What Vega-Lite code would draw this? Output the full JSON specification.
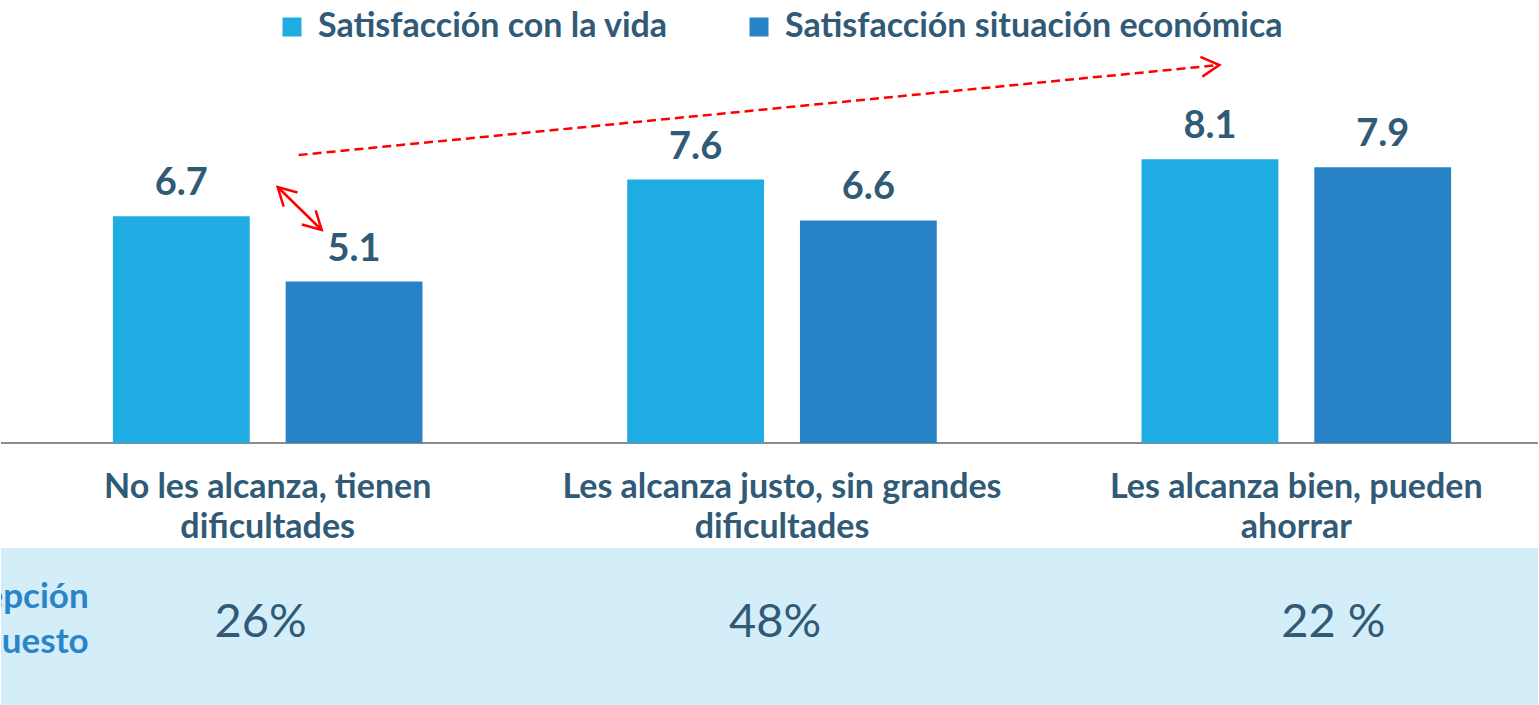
{
  "$schema": "https://vega.github.io/schema/vega-lite/v6.json",
  "autosize": {"type": "fit", "contains": "padding"},
  "width": 1539,
  "height": 705,
  "padding": 0,
  "background": "white",
  "config": {"view": {"stroke": null}, "font": "Lato"},
  "datasets": {
    "barras": [
      {"situacion": "No les alcanza, tienen dificultades", "serie": "Satisfacción con la vida", "valor": 6.7},
      {"situacion": "No les alcanza, tienen dificultades", "serie": "Satisfacción situación económica", "valor": 5.1},
      {"situacion": "Les alcanza justo, sin grandes dificultades", "serie": "Satisfacción con la vida", "valor": 7.6},
      {"situacion": "Les alcanza justo, sin grandes dificultades", "serie": "Satisfacción situación económica", "valor": 6.6},
      {"situacion": "Les alcanza bien, pueden ahorrar", "serie": "Satisfacción con la vida", "valor": 8.1},
      {"situacion": "Les alcanza bien, pueden ahorrar", "serie": "Satisfacción situación económica", "valor": 7.9}
    ],
    "grupos": [
      {"situacion": "No les alcanza, tienen dificultades", "etiqueta": "No les alcanza, tienen\ndificultades", "porcentaje": "26%"},
      {"situacion": "Les alcanza justo, sin grandes dificultades", "etiqueta": "Les alcanza justo, sin grandes\ndificultades", "porcentaje": "48%"},
      {"situacion": "Les alcanza bien, pueden ahorrar", "etiqueta": "Les alcanza bien, pueden\nahorrar", "porcentaje": "22 %"}
    ]
  },
  "layer": [
    {
      "data": {"values": [{}]},
      "mark": {"type": "rect", "color": "#D3EEF9"},
      "encoding": {
        "y": {"datum": -1.43, "type": "quantitative", "scale": {"domain": [-5.275, 12], "nice": false, "zero": false}, "axis": null},
        "y2": {"datum": -5.275}
      }
    },
    {
      "data": {"values": [{}]},
      "mark": {"type": "rule", "color": "#8C8C8C", "strokeWidth": 2},
      "encoding": {
        "y": {"datum": 1.147, "type": "quantitative"}
      }
    },
    {
      "data": {"name": "barras"},
      "mark": {"type": "bar"},
      "encoding": {
        "x": {
          "field": "situacion", "type": "nominal", "axis": null,
          "scale": {
            "domain": ["No les alcanza, tienen dificultades", "Les alcanza justo, sin grandes dificultades", "Les alcanza bien, pueden ahorrar"],
            "paddingInner": 0.0602, "paddingOuter": 0.0243, "align": 1, "round": false
          }
        },
        "xOffset": {
          "field": "serie", "type": "nominal",
          "scale": {"domain": ["Satisfacción con la vida", "Satisfacción situación económica"], "paddingInner": 0.208, "paddingOuter": 0.503, "round": false}
        },
        "y": {"field": "valor", "type": "quantitative"},
        "y2": {"datum": 1.147},
        "color": {
          "field": "serie", "type": "nominal",
          "scale": {"domain": ["Satisfacción con la vida", "Satisfacción situación económica"], "range": ["#1FACE3", "#2783C6"]},
          "legend": {
            "title": null, "orient": "none", "legendX": 274, "legendY": 10, "direction": "horizontal",
            "columns": 2, "columnPadding": 74, "symbolType": "square", "symbolSize": 361, "symbolStrokeWidth": 0,
            "symbolOpacity": 1, "labelFont": "Lato", "labelFontSize": 34, "labelFontWeight": "bold",
            "labelColor": "#305A76", "labelOffset": 9, "labelLimit": 800, "labelBaseline": "middle"
          }
        }
      }
    },
    {
      "data": {"name": "barras"},
      "mark": {"type": "text", "dy": -21, "baseline": "alphabetic", "fontSize": 38, "fontWeight": "bold", "color": "#305A76"},
      "encoding": {
        "x": {"field": "situacion", "type": "nominal"},
        "xOffset": {"field": "serie", "type": "nominal"},
        "y": {"field": "valor", "type": "quantitative"},
        "text": {"field": "valor", "type": "quantitative", "format": ".1f"}
      }
    },
    {
      "data": {"name": "grupos"},
      "mark": {"type": "text", "baseline": "alphabetic", "fontSize": 34, "fontWeight": "bold", "color": "#305A76", "lineBreak": "\n", "lineHeight": 40},
      "encoding": {
        "x": {"field": "situacion", "type": "nominal"},
        "y": {"datum": -0.203, "type": "quantitative"},
        "text": {"field": "etiqueta", "type": "nominal"}
      }
    },
    {
      "data": {"values": [{}]},
      "mark": {"type": "text", "align": "right", "baseline": "alphabetic", "dx": -179, "fontSize": 35, "fontWeight": "bold", "color": "#2A84C8", "lineBreak": "\n", "lineHeight": 45, "clip": true},
      "encoding": {
        "x": {"datum": "No les alcanza, tienen dificultades", "type": "nominal"},
        "y": {"datum": -2.898, "type": "quantitative"},
        "text": {"value": "Percepción\npresupuesto"}
      }
    },
    {
      "data": {"name": "grupos"},
      "transform": [{"filter": "datum.porcentaje != '22 %'"}],
      "mark": {"type": "text", "baseline": "alphabetic", "dx": -7, "fontSize": 47, "fontWeight": "normal", "color": "#305A76"},
      "encoding": {
        "x": {"field": "situacion", "type": "nominal"},
        "y": {"datum": -3.62, "type": "quantitative"},
        "text": {"field": "porcentaje", "type": "nominal"}
      }
    },
    {
      "data": {"name": "grupos"},
      "transform": [{"filter": "datum.porcentaje == '22 %'"}],
      "mark": {"type": "text", "baseline": "alphabetic", "dx": 37, "fontSize": 47, "fontWeight": "normal", "color": "#305A76"},
      "encoding": {
        "x": {"field": "situacion", "type": "nominal"},
        "y": {"datum": -3.62, "type": "quantitative"},
        "text": {"field": "porcentaje", "type": "nominal"}
      }
    },
    {
      "data": {"values": [{}]},
      "mark": {"type": "rule", "color": "#FF0000", "strokeWidth": 2.5, "strokeDash": [9, 5], "xOffset": 31, "x2Offset": -77},
      "encoding": {
        "x": {"datum": "No les alcanza, tienen dificultades", "type": "nominal"},
        "x2": {"datum": "Les alcanza bien, pueden ahorrar"},
        "y": {"datum": 8.202, "type": "quantitative"},
        "y2": {"datum": 10.407}
      }
    },
    {
      "data": {"values": [{}]},
      "mark": {"type": "point", "shape": "M-1,-0.55L0,0L-1,0.55", "filled": false, "stroke": "#FF0000", "strokeWidth": 2.5, "size": 1300, "angle": -5.6, "opacity": 1, "xOffset": -77},
      "encoding": {
        "x": {"datum": "Les alcanza bien, pueden ahorrar", "type": "nominal"},
        "y": {"datum": 10.407, "type": "quantitative"}
      }
    },
    {
      "data": {"values": [{}]},
      "mark": {"type": "rule", "color": "#FF0000", "strokeWidth": 2.5, "xOffset": 10, "x2Offset": 54},
      "encoding": {
        "x": {"datum": "No les alcanza, tienen dificultades", "type": "nominal"},
        "x2": {"datum": "No les alcanza, tienen dificultades"},
        "y": {"datum": 7.418, "type": "quantitative"},
        "y2": {"datum": 6.364}
      }
    },
    {
      "data": {"values": [{}]},
      "mark": {"type": "point", "shape": "M-1,-0.55L0,0L-1,0.55", "filled": false, "stroke": "#FF0000", "strokeWidth": 2.5, "size": 1300, "angle": 44.3, "opacity": 1, "xOffset": 54},
      "encoding": {
        "x": {"datum": "No les alcanza, tienen dificultades", "type": "nominal"},
        "y": {"datum": 6.364, "type": "quantitative"}
      }
    },
    {
      "data": {"values": [{}]},
      "mark": {"type": "point", "shape": "M-1,-0.55L0,0L-1,0.55", "filled": false, "stroke": "#FF0000", "strokeWidth": 2.5, "size": 1300, "angle": 224.3, "opacity": 1, "xOffset": 10},
      "encoding": {
        "x": {"datum": "No les alcanza, tienen dificultades", "type": "nominal"},
        "y": {"datum": 7.418, "type": "quantitative"}
      }
    }
  ]
}
